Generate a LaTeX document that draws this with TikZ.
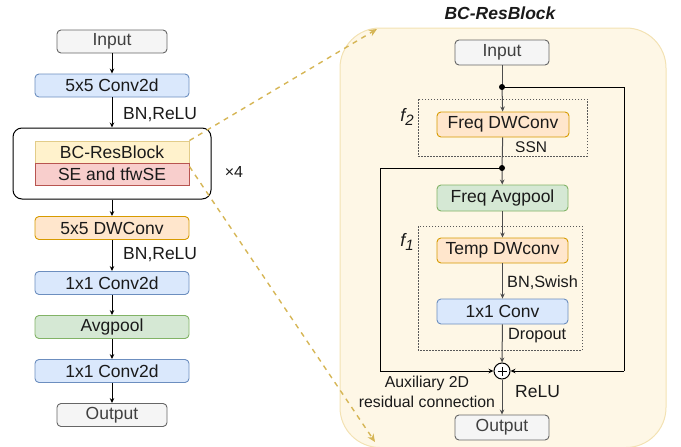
\documentclass[tikz,border=0pt]{standalone}
\usepackage{fontspec}
\setmainfont{Liberation Sans}
\usetikzlibrary{arrows.meta}
\definecolor{bluef}{HTML}{DAE8FC}\definecolor{blued}{HTML}{6C8EBF}
\definecolor{orf}{HTML}{FFE6CC}\definecolor{ord}{HTML}{D79B00}
\definecolor{grf}{HTML}{D5E8D4}\definecolor{grd}{HTML}{82B366}
\definecolor{gyf}{HTML}{F5F5F5}\definecolor{gyd}{HTML}{666666}
\definecolor{yef}{HTML}{FFF2CC}\definecolor{yed}{HTML}{D6B656}
\definecolor{ref}{HTML}{F8CECC}\definecolor{red2}{HTML}{B85450}
\definecolor{contf}{HTML}{FEF7E6}\definecolor{contd}{HTML}{F3E2B3}
\definecolor{gold}{HTML}{D6B656}
\definecolor{txt}{HTML}{1A1A1A}
\begin{document}
\begin{tikzpicture}[x=1pt,y=-1pt,
  bx/.style={draw,rounded corners=4pt,inner sep=0pt,line width=0.9pt,text=txt,
    font=\fontsize{17.5}{20}\selectfont},
  bluebox/.style={bx,fill=bluef,draw=blued,minimum width=154pt,minimum height=23pt},
  orbox/.style={bx,fill=orf,draw=ord,minimum width=154pt,minimum height=23pt},
  grbox/.style={bx,fill=grf,draw=grd,minimum width=154pt,minimum height=23pt},
  gybox/.style={bx,fill=gyf,draw=gyd,minimum width=110pt,minimum height=23pt,text=black!75},
  lbl/.style={font=\fontsize{17.5}{20}\selectfont,inner sep=0pt,anchor=west,text=txt},
  slbl/.style={font=\fontsize{16.3}{19}\selectfont,inner sep=0pt,anchor=west,text=txt},
  flbl/.style={font=\fontsize{18}{20}\selectfont\itshape,text=txt,inner sep=0pt},
  arr/.style={-{Stealth[length=5pt,width=4.5pt]},line width=0.9pt},
  ln/.style={line width=0.9pt},
  vln/.style={line width=1pt,draw=black!70},
  fbox/.style={draw=black!65,line width=0.6pt,dash pattern=on 1.5pt off 1.5pt},
  golddash/.style={draw=gold,line width=1.4pt,dash pattern=on 5pt off 5pt,
    -{Stealth[length=8pt,width=7pt,fill=gold]}},
  dot/.style={circle,fill=black,inner sep=0pt,minimum size=6pt}
]
\useasboundingbox (0,0) rectangle (681,447);

% ---------- right container ----------
\path[fill=contf,draw=contd,line width=1pt,rounded corners=40pt] (340,28) rectangle (666,447.5);
\node[font=\fontsize{17.5}{20}\selectfont\bfseries\itshape,text=txt] (title) at (500,13) {BC-ResBlock};

% ---------- left column ----------
\node[gybox] (in1) at (112,41.5) {Input};
\node[bluebox] (c1) at (112,85.5) {5x5 Conv2d};
\node[lbl] (l1) at (123,115) {BN,ReLU};
\node[draw=black,fill=white,rounded corners=9pt,line width=1pt,minimum width=198pt,minimum height=71pt] (outer) at (112,163.5) {};
\node[bx,rounded corners=0pt,fill=yef,draw=yed!70,minimum width=154pt,minimum height=22pt] (bcr) at (112,152) {BC-ResBlock};
\node[bx,rounded corners=0pt,fill=ref,draw=red2,minimum width=154pt,minimum height=22pt] (se) at (112,174) {SE and tfwSE};
\node[font=\fontsize{16}{19}\selectfont,text=txt] (x4) at (234,172) {×4};
\node[orbox] (dw) at (112,228) {5x5 DWConv};
\node[lbl] (l2) at (123,255) {BN,ReLU};
\node[bluebox] (c2) at (112,283) {1x1 Conv2d};
\node[grbox] (avg) at (112,327) {Avgpool};
\node[bluebox] (c3) at (112,371) {1x1 Conv2d};
\node[gybox] (out1) at (112,415) {Output};

\draw[arr] (in1) -- (c1);
\draw[arr] (c1) -- (outer);
\draw[arr] (outer) -- (dw);
\draw[arr] (dw) -- (c2);
\draw[arr] (c2) -- (avg);
\draw[arr] (avg) -- (c3);
\draw[arr] (c3) -- (out1);

% ---------- gold dashed ----------
\coordinate (gtop) at (377,29);
\coordinate (gbot) at (375,442);
\draw[golddash] (bcr.north east) -- (gtop);
\draw[golddash] ([yshift=-4pt]se.north east) -- (gbot);

% ---------- right block ----------
\draw[fbox] (418,99) rectangle (587,156);
\draw[fbox] (418,226) rectangle (582,350);
\node[flbl] (f2) at (407,117) {f\raisebox{-4pt}{\fontsize{15}{17}\selectfont 2}};
\node[flbl] (f1) at (407,242) {f\raisebox{-4pt}{\fontsize{15}{17}\selectfont 1}};

\node[gybox,minimum width=94pt,minimum height=25pt] (in2) at (502,52.5) {Input};
\node[orbox,minimum width=132pt,minimum height=25pt] (fdw) at (503,124.5) {Freq DWConv};
\node[slbl,font=\fontsize{15.5}{18}\selectfont] (ssn) at (515,147) {SSN};
\node[grbox,minimum width=131pt,minimum height=26pt] (favg) at (502.5,198) {Freq Avgpool};
\node[orbox,minimum width=131pt,minimum height=25pt] (tdw) at (502.5,250.5) {Temp DWconv};
\node[slbl] (bns) at (507,283) {BN,Swish};
\node[bluebox,minimum width=131pt,minimum height=25pt] (cv) at (502.5,311.5) {1x1 Conv};
\node[slbl] (drop) at (508,336) {Dropout};
\node[circle,draw=black,fill=white,line width=1pt,minimum size=16pt,inner sep=0pt] (plus) at (502,371) {};
\draw[line width=1pt] ([xshift=-4.5pt]plus.center) -- ([xshift=4.5pt]plus.center)
  ([yshift=-4.5pt]plus.center) -- ([yshift=4.5pt]plus.center);
\node[font=\fontsize{15.8}{20}\selectfont,align=center,text=txt,inner sep=0pt] (aux) at (427,392) {Auxiliary 2D\\residual connection};
\node[lbl] (relu) at (515,392) {ReLU};
\node[gybox,minimum width=94pt,minimum height=25pt] (out2) at (502,427.5) {Output};

\coordinate (d1) at (502,87);
\coordinate (d2) at (502,168);
\coordinate (rc) at (624,371);
\coordinate (lc) at (380,371);

\draw[vln] (in2) -- (d1);
\draw[arr,vln] (d1) -- (fdw);
\draw[ln] (d1) -| (rc);
\draw[arr] (rc) -- (plus);
\draw[vln] (fdw) -- (d2);
\draw[arr,vln] (d2) -- (favg);
\draw[ln] (d2) -| (lc);
\draw[arr] (lc) -- (plus);
\draw[arr,vln] (favg) -- (tdw);
\draw[arr,vln] (tdw) -- (cv);
\draw[arr,vln] (cv) -- (plus);
\draw[arr,vln] (plus) -- (out2);
\node[dot] at (d1) {};
\node[dot] at (d2) {};
\end{tikzpicture}
\end{document}
